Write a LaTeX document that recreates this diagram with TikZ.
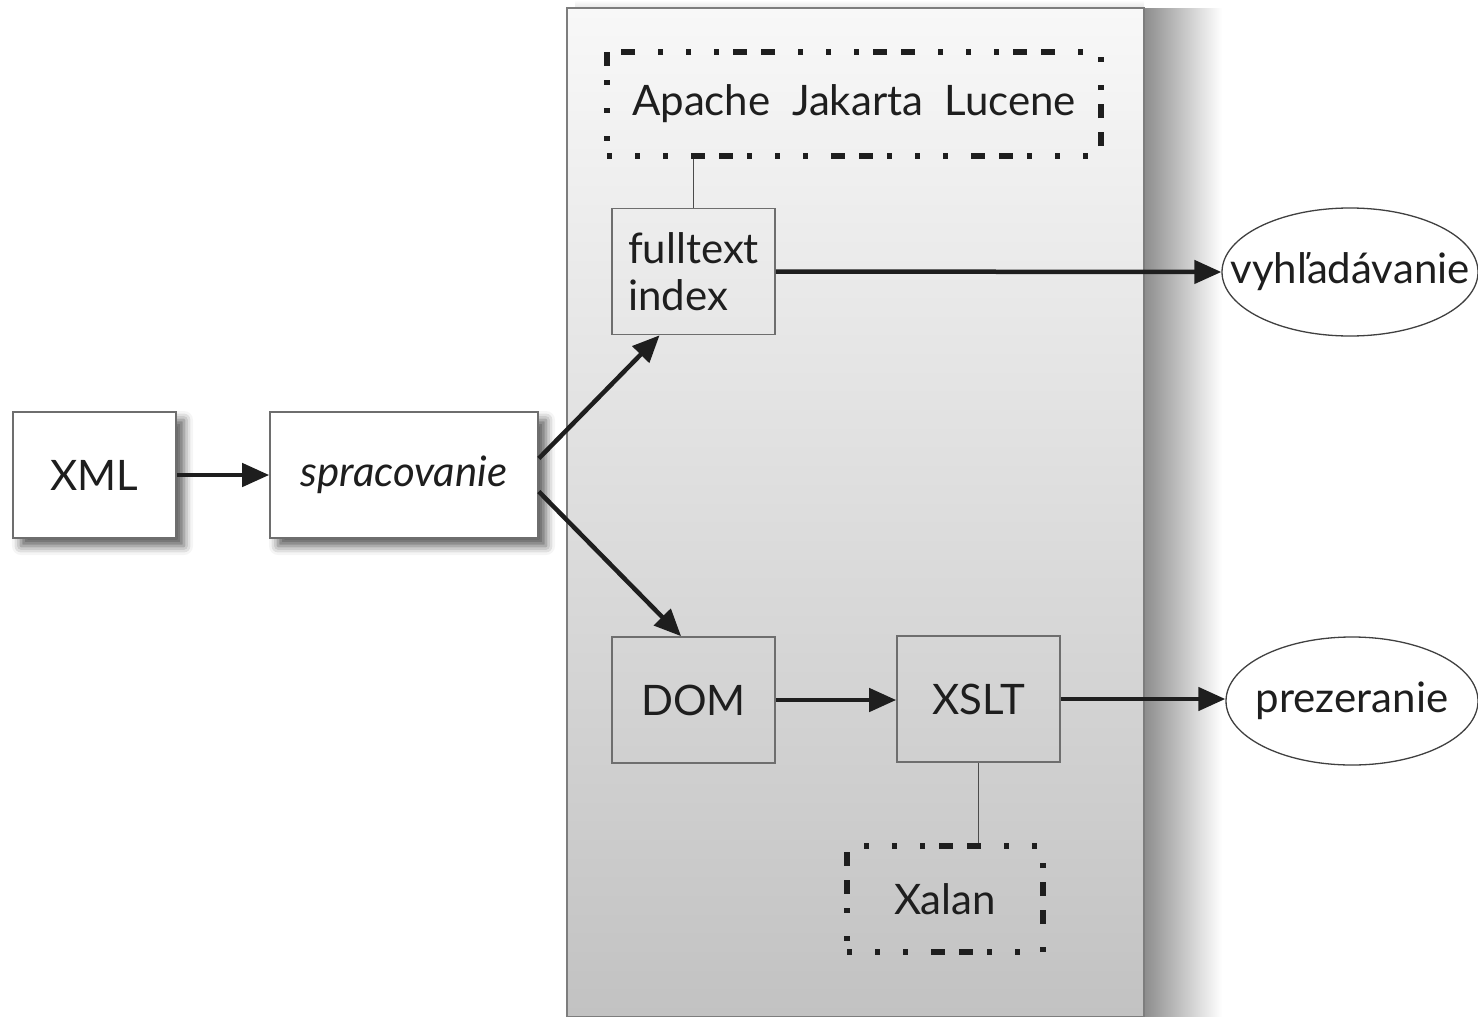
\documentclass[tikz,border=0pt]{standalone}
\usepackage{fontspec}
\setmainfont{Lato}
\usetikzlibrary{arrows.meta,shapes.geometric,shadows.blur,calc}
\definecolor{ink}{HTML}{1E1E1E}
\definecolor{frame}{HTML}{6E6E6E}
\definecolor{paneltop}{HTML}{F8F8F8}
\definecolor{panelbot}{HTML}{C2C2C2}
\tikzset{
  txt/.style={font=\fontsize{42}{47}\selectfont, text=ink},
  procbox/.style={txt, draw=frame, line width=1.6pt, minimum width=163pt, minimum height=126pt, inner sep=0pt},
  inbox/.style={procbox, fill=white, blur shadow={shadow xshift=8pt, shadow yshift=-8pt, shadow blur radius=9pt, shadow opacity=65}},
  libbox/.style={txt, draw=ink, line width=5.5pt, inner sep=0pt,
    dash pattern=on 5pt off 23pt on 5pt off 23pt on 5pt off 23pt on 14pt off 14pt on 14pt off 14pt},
  goal/.style={txt, ellipse, draw=ink!85, line width=1.3pt, fill=white, inner xsep=-70pt, inner ysep=0pt},
  flow/.style={draw=ink, line width=4.5pt, -{Triangle[length=27pt,width=23pt]}},
  link/.style={draw=ink!80, line width=1.3pt},
}
\begin{document}
\begin{tikzpicture}[x=1pt,y=-1pt]
\useasboundingbox (0,0) rectangle (1478,1017);
% soft shadow cast by the application panel
\shade[left color=black!45, middle color=black!14, right color=white] (1144,8) rectangle (1222,1017);
\shade[top color=white, bottom color=black!10] (575,0) rectangle (1144,8);
% application panel
\node[draw=frame!90, line width=1.6pt, top color=paneltop, bottom color=panelbot,
      minimum width=577pt, minimum height=1009pt, inner sep=0pt]
  (panel) at (855.5,512.5) {};
% input side
\node[inbox] (xml) at (94.5,475) {XML};
\node[inbox, minimum width=268pt] (spr) at (404,475) {\itshape spracovanie};
% processing components
\node[procbox, align=left] (fti) at (693.5,271.5) {fulltext\\index};
\node[procbox] (dom) at (693.5,700) {DOM};
\node[procbox] (xslt) at (978.5,699) {XSLT};
% libraries
\node[libbox, minimum width=494pt, minimum height=104pt] (luc) at (854,104) {Apache\ \ Jakarta\ \ Lucene};
\node[libbox, minimum width=196pt, minimum height=106pt] (xal) at (945,899) {Xalan};
% outputs
\node[goal, minimum width=256pt, minimum height=128pt] (vyh) at (1350,272) {vyhľadávanie};
\node[goal, minimum width=252pt, minimum height=128pt] (pre) at (1352,701) {prezeranie};
% connectors
\draw[flow] (xml.east) -- (spr.west);
\draw[flow] (spr.7) -- (fti.242);
\draw[flow] (spr.-7) -- (dom.101);
\draw[flow] (fti.east) -- (vyh.west);
\draw[flow] (dom.east) -- (dom.east -| xslt.west);
\draw[flow] (xslt.east) -- (xslt.east -| pre.west);
\draw[link] (fti.north) -- (fti.north |- luc.south);
\draw[link] (xslt.south) -- (xslt.south |- xal.north);
\end{tikzpicture}
\end{document}
